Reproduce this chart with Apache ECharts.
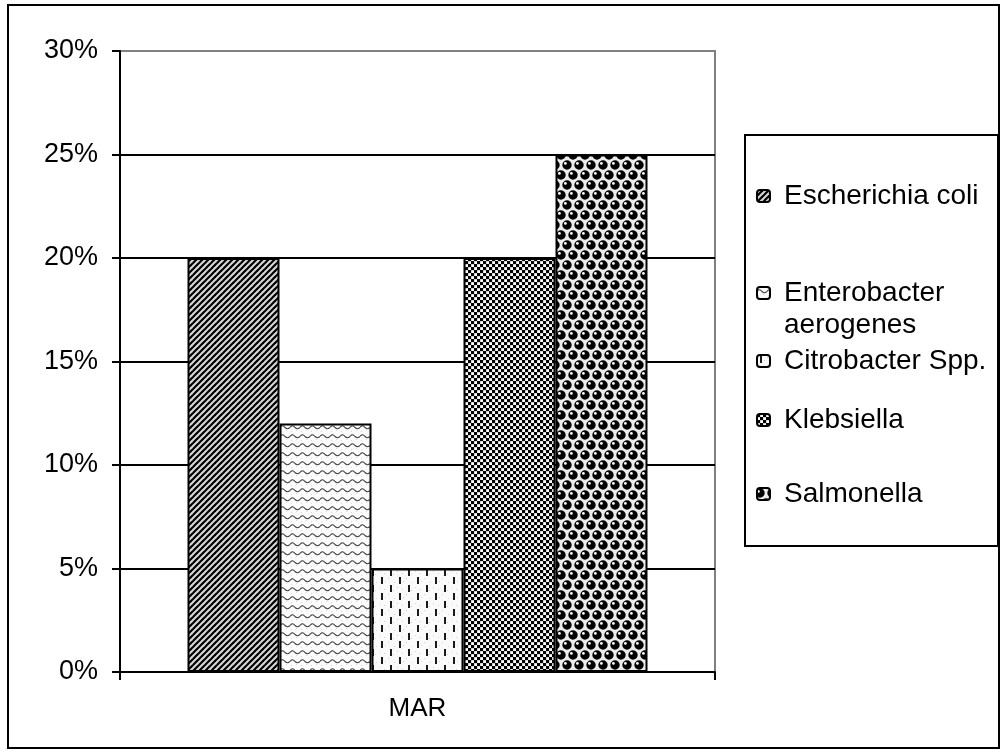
<!DOCTYPE html>
<html>
<head>
<meta charset="utf-8">
<script src="https://cdn.jsdelivr.net/npm/echarts@6/dist/echarts.min.js"></script>
<style>
html,body{margin:0;padding:0;background:#fff;}
#chart{width:1005px;height:754px;}
</style>
</head>
<body>
<div id="chart"></div>
<script>
// ---- data ----
const categories = ['MAR'];
const seriesNames = ['Escherichia coli', 'Enterobacter aerogenes', 'Citrobacter Spp.', 'Klebsiella', 'Salmonella'];
const ecoliValues = [20];
const enterobacterValues = [12];
const citrobacterValues = [5];
const klebsiellaValues = [20];
const salmonellaValues = [25];
const seriesValues = [ecoliValues, enterobacterValues, citrobacterValues, klebsiellaValues, salmonellaValues];
const yTickLabels = ['0%', '5%', '10%', '15%', '20%', '25%', '30%'];

// ---- patterns ----
function makeTile(w, h, draw) {
  const c = document.createElement('canvas');
  c.width = w; c.height = h;
  const ctx = c.getContext('2d');
  draw(ctx, w, h);
  return { image: c, repeat: 'repeat' };
}
const patDiag = makeTile(6, 6, (ctx, w, h) => {
  ctx.fillStyle = '#d8d8d8'; ctx.fillRect(0, 0, w, h);
  ctx.strokeStyle = '#000'; ctx.lineWidth = 2.2;
  for (let k = -1; k <= 1; k++) {
    ctx.beginPath(); ctx.moveTo(k * 6 - 1, 7); ctx.lineTo(k * 6 + 7, -1); ctx.stroke();
  }
});
const patWave = makeTile(10, 9, (ctx, w, h) => {
  ctx.fillStyle = '#fcfcfc'; ctx.fillRect(0, 0, w, h);
  ctx.fillStyle = '#d6d6d6'; ctx.fillRect(6, 7, 1, 1); ctx.fillRect(1, 8, 1, 1);
  ctx.strokeStyle = '#444'; ctx.lineWidth = 1.1;
  ctx.beginPath();
  ctx.moveTo(0, 4.5);
  ctx.quadraticCurveTo(2.5, 1, 5, 4.5);
  ctx.quadraticCurveTo(7.5, 7, 10, 4.5);
  ctx.stroke();
});
const patDash = makeTile(18, 16, (ctx, w, h) => {
  ctx.fillStyle = '#fafafa'; ctx.fillRect(0, 0, w, h);
  ctx.fillStyle = '#d4d4d4';
  [[1,11],[7,5],[15,14],[10,2],[6,13],[16,6]].forEach(p => ctx.fillRect(p[0], p[1], 1, 1));
  ctx.fillStyle = '#1a1a1a';
  ctx.fillRect(3, 1, 2, 7);
  ctx.fillRect(12, 9, 2, 7);
});
const patCheck = makeTile(6, 6, (ctx, w, h) => {
  ctx.fillStyle = '#b4b4b4'; ctx.fillRect(0, 0, w, h);
  ctx.fillStyle = '#000';
  ctx.fillRect(0, 0, 3, 3); ctx.fillRect(3, 3, 3, 3);
  ctx.fillStyle = '#fff';
  ctx.fillRect(3.5, 0.5, 2.5, 2.5); ctx.fillRect(0.5, 3.5, 2.5, 2.5);
});
const patDots = makeTile(12, 20, (ctx, w, h) => {
  ctx.fillStyle = '#ececec'; ctx.fillRect(0, 0, w, h);
  const centers = [];
  for (let dx = -1; dx <= 1; dx++) for (let dy = -1; dy <= 1; dy++) {
    centers.push([3 + dx * 12, 5 + dy * 20]);
    centers.push([9 + dx * 12, 15 + dy * 20]);
  }
  centers.forEach(([x, y]) => {
    ctx.fillStyle = '#000';
    ctx.beginPath(); ctx.arc(x, y, 4.7, 0, Math.PI * 2); ctx.fill();
  });
  centers.forEach(([x, y]) => {
    ctx.fillStyle = '#fff';
    ctx.beginPath(); ctx.arc(x - 1.6, y - 1.6, 1.4, 0, Math.PI * 2); ctx.fill();
  });
});
const patterns = [patDiag, patWave, patDash, patCheck, patDots];

// ---- chart ----
const chart = echarts.init(document.getElementById('chart'), null, { renderer: 'canvas' });
const FONT = 'Liberation Sans, Arial, sans-serif';

const legendTops = [180, 245, 345, 404, 478];
const legendFormat = {
  'Enterobacter aerogenes': ' \nEnterobacter\naerogenes'
};
const legends = seriesNames.map((name, i) => ({
  data: [name],
  left: 756,
  top: legendTops[i],
  padding: 0,
  itemWidth: 13,
  itemHeight: 12,
  selectedMode: false,
  formatter: n => legendFormat[n] || n,
  textStyle: {
    fontFamily: FONT, fontSize: 28, color: '#000', lineHeight: 32,
    padding: [0, 0, 0, 9]
  }
}));

const option = {
  backgroundColor: '#fff',
  animation: false,
  legend: legends,
  grid: {
    left: 120, right: 290, top: 51, bottom: 82,
    show: true, backgroundColor: '#fff', borderColor: '#808080', borderWidth: 2
  },
  xAxis: {
    type: 'category',
    data: categories,
    axisLine: { lineStyle: { color: '#000', width: 2 } },
    axisTick: { show: true, length: 8, lineStyle: { color: '#000', width: 2 } },
    axisLabel: { fontFamily: FONT, fontSize: 26, color: '#000', margin: 24 }
  },
  yAxis: {
    type: 'value',
    min: 0, max: 30, interval: 5,
    axisLine: { show: true, lineStyle: { color: '#000', width: 2 } },
    axisTick: { show: true, length: 8, lineStyle: { color: '#000', width: 2 } },
    axisLabel: {
      fontFamily: FONT, fontSize: 27, color: '#000', margin: 22,
      formatter: v => yTickLabels[Math.round(v / 5)]
    },
    splitLine: {
      show: true,
      lineStyle: { color: ['#000', '#000', '#000', '#000', '#000', '#000', '#808080'], width: 2 }
    }
  },
  series: seriesNames.map((name, i) => ({
    name: name,
    type: 'bar',
    data: seriesValues[i],
    barWidth: 92,
    barGap: '0%',
    itemStyle: { color: patterns[i], borderColor: '#000', borderWidth: 2 }
  })),
  graphic: [
    {
      type: 'rect', z: 100, silent: true,
      shape: { x: 8, y: 5, width: 991, height: 743 },
      style: { fill: 'none', stroke: '#000', lineWidth: 2 }
    },
    {
      type: 'rect', z: 100, silent: true,
      shape: { x: 745, y: 135, width: 253, height: 411 },
      style: { fill: 'none', stroke: '#000', lineWidth: 2 }
    }
  ]
};
chart.setOption(option);
</script>
</body>
</html>
